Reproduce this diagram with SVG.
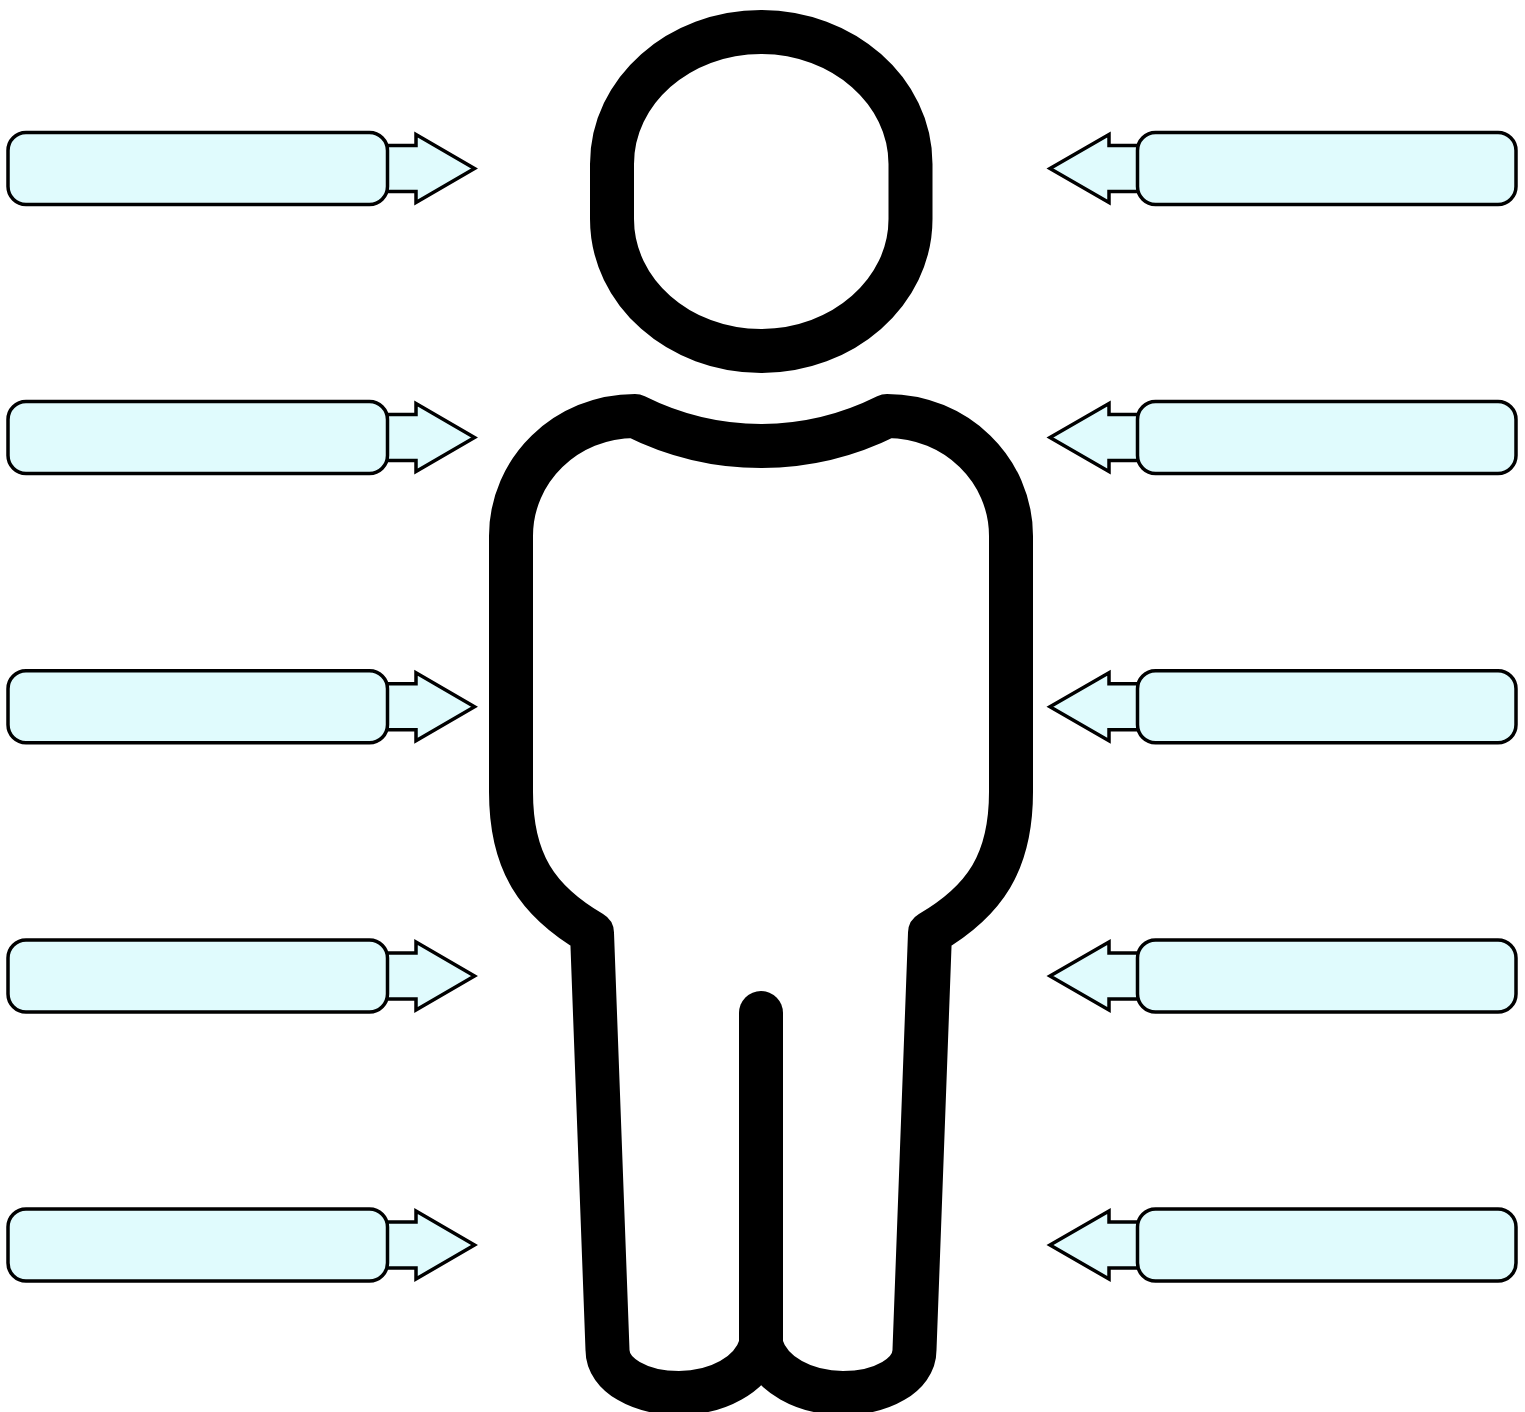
<svg xmlns="http://www.w3.org/2000/svg" xmlns:xlink="http://www.w3.org/1999/xlink" width="1525" height="1412" viewBox="0 0 1525 1412">
<style>
.b{fill:#e0fbfd;stroke:#000;stroke-width:3.500}
.a{fill:#e0fbfd;stroke:#000;stroke-width:3.500;stroke-miterlimit:10}
.p{fill:none;stroke:#000;stroke-width:44;stroke-linecap:round;stroke-linejoin:round}
</style>
<defs>
<g id="L"><path class="a" d="M380 -23H416V-34L474.500 0 416 34V23H380Z"/><rect class="b" x="8" y="-36" width="379.500" height="72" rx="18"/></g>
<g id="R"><path class="a" d="M1145 -23H1109V-34L1050 0 1109 34V23H1145Z"/><rect class="b" x="1137.500" y="-36" width="378.500" height="72" rx="18"/></g>
</defs>
<rect width="1525" height="1412" fill="#fff"/>
<g id="person">
<path id="head" class="p" d="M612 164C612 91 679 32 761 32C843 32 910.500 91 910.500 164V219C910.500 292 843 351 761 351C679 351 612 292 612 219Z"/>
<path id="body" class="p" d="M635 416C675 436 717 446 761 446C805 446 847 436 887 416C956 416 1011 470 1011 536V792C1011 862 985 901 930 933L914.500 1350C914.500 1375 882 1393 843 1393C805 1393 770 1375 761 1345C752 1375 717 1393 679 1393C640 1393 607.500 1375 607.500 1350L592 933C537 901 511 862 511 792V536C511 470 566 416 635 416Z"/>
<path id="legs" class="p" d="M761 1013V1345"/>
</g>
<g id="left-1"><use xlink:href="#L" href="#L" y="168.500"/></g>
<g id="left-2"><use xlink:href="#L" href="#L" y="437.500"/></g>
<g id="left-3"><use xlink:href="#L" href="#L" y="706.800"/></g>
<g id="left-4"><use xlink:href="#L" href="#L" y="976"/></g>
<g id="left-5"><use xlink:href="#L" href="#L" y="1245"/></g>
<g id="right-1"><use xlink:href="#R" href="#R" y="168.500"/></g>
<g id="right-2"><use xlink:href="#R" href="#R" y="437.500"/></g>
<g id="right-3"><use xlink:href="#R" href="#R" y="706.800"/></g>
<g id="right-4"><use xlink:href="#R" href="#R" y="976"/></g>
<g id="right-5"><use xlink:href="#R" href="#R" y="1245"/></g>
</svg>
